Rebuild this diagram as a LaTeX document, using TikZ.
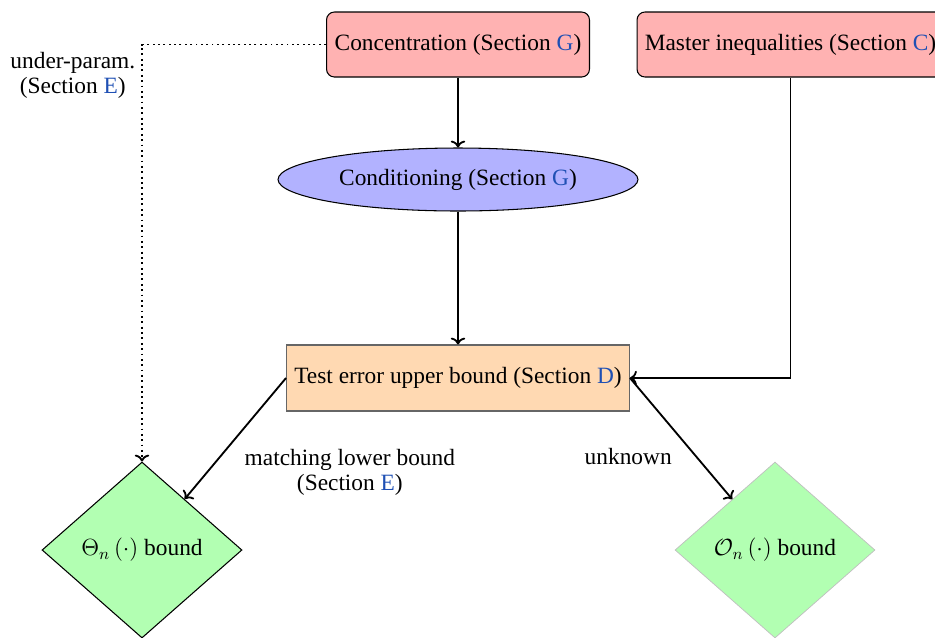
\RequirePackage{fix-cm}
\documentclass[tikz,border=0pt]{standalone}
\usepackage{fontspec}
\setmainfont{Liberation Serif}
\usepackage{tikz}
\usetikzlibrary{shapes.geometric}
\usetikzlibrary{arrows.meta,calc}

\definecolor{secblue}{RGB}{31,80,180}
\newcommand{\secref}[1]{(Section \textcolor{secblue}{#1})}

\begin{document}
\begin{tikzpicture}[x=0.02cm,y=-0.02cm,font=\fontsize{13.3}{14.2}\selectfont,
  sourcebox/.style={draw,semithick,rounded corners=4.5pt,fill=red!30,minimum height=1.3cm,inner sep=0pt},
  condell/.style={draw,semithick,ellipse,fill=blue!30,minimum width=7.2cm,minimum height=1.26cm,inner sep=0pt},
  testbox/.style={draw=black!60,semithick,fill=orange!30,minimum width=6.86cm,minimum height=1.32cm,inner sep=0pt},
  result/.style={diamond,fill=green!30,minimum width=4cm,minimum height=3.52cm,inner sep=0pt},
  flow/.style={->,line width=1.05pt}]%

\useasboundingbox (0,0) rectangle (935,637);

\node[sourcebox,minimum width=5.26cm] (conc) at (458,44.5) {Concentration \secref{G}};
\node[sourcebox,minimum width=6.14cm] (master) at (790.5,44.5) {Master inequalities \secref{C}};
\node[condell] (cond) at (458,179.5) {Conditioning \secref{G}};
\node[testbox] (test) at (458,378) {Test error upper bound \secref{D}};
\node[result,draw,semithick] (theta) at (142,550) {$\Theta_n\left(\cdot\right)$ bound};
\node[result,draw=black!25] (bigo) at (775,550) {$\mathcal{O}_n\left(\cdot\right)$ bound};

\draw[flow] (conc) -- (cond);
\draw[flow] (cond) -- (test);
\draw[flow] (master.south) |- (test.east);
\draw[flow] (test.west) -- node[pos=0.78,right=0.62cm,align=center] {matching lower bound\\\secref{E}} (theta);
\draw[flow] (test.east) -- node[pos=0.65,left=0.36cm] {unknown} (bigo);
\draw[flow,dotted] (conc.west) -| node[pos=0.537,left,align=center] {under-param.\\\secref{E}} (theta.north);

\end{tikzpicture}
\end{document}
